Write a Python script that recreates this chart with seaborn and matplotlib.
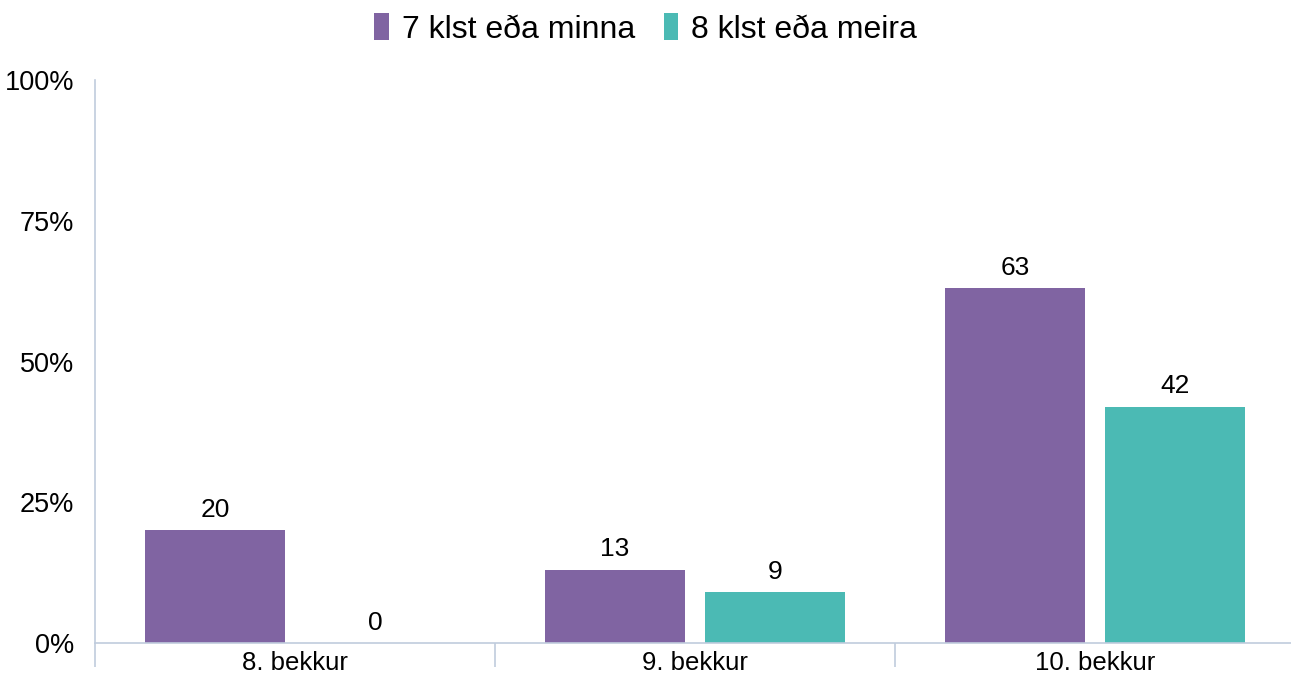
import matplotlib
matplotlib.use("Agg")
import matplotlib.pyplot as plt
import seaborn as sns
import pandas as pd
from matplotlib.ticker import FixedLocator

categories = ["8. bekkur", "9. bekkur", "10. bekkur"]
series_names = ["7 klst eða minna", "8 klst eða meira"]
values_7 = [20, 13, 63]
values_8 = [0, 9, 42]
y_ticks = [0, 25, 50, 75, 100]
y_tick_labels = ["0%", "25%", "50%", "75%", "100%"]
colors = ["#8064A2", "#4BBAB4"]

df = pd.DataFrame({
    "cat": categories * 2,
    "series": [series_names[0]] * 3 + [series_names[1]] * 3,
    "val": values_7 + values_8,
})

sns.set_theme(style="white")
plt.rcParams["font.family"] = ["Liberation Sans", "DejaVu Sans"]

fig = plt.figure(figsize=(12.91, 6.74), dpi=100)
ax = fig.add_axes([95 / 1291, 31 / 674, 1200 / 1291, 563 / 674])

sns.barplot(data=df, x="cat", y="val", hue="series", palette=colors,
            width=0.8, gap=0.12, ax=ax, saturation=1, legend=True, linewidth=0)

for cont in ax.containers:
    ax.bar_label(cont, labels=[f"{v:.0f}" for v in cont.datavalues],
                 padding=6, fontsize=19, color="black")

ax.set_xlim(-0.5, 2.5)
ax.set_ylim(0, 100)
ax.set_yticks(y_ticks)
ax.set_yticklabels(y_tick_labels, fontsize=19.5, color="black")
ax.tick_params(axis="y", length=0, pad=15)
ax.tick_params(axis="x", which="major", length=0, pad=6, labelsize=18.5, labelcolor="black")
ax.xaxis.set_minor_locator(FixedLocator([-0.5, 0.5, 1.5, 2.5]))
ax.tick_params(axis="x", which="minor", bottom=True, length=17, width=1.2,
               color="#C0CCDD", direction="out")
ax.set_xlabel("")
ax.set_ylabel("")

spine_color = "#C0CCDD"
for s in ["top", "right"]:
    ax.spines[s].set_visible(False)
ax.spines["left"].set_color(spine_color)
ax.spines["bottom"].set_color(spine_color)
ax.spines["left"].set_linewidth(1.2)
ax.spines["bottom"].set_linewidth(1.2)
ax.grid(False)

ax.legend_.remove()
handles, labels = ax.get_legend_handles_labels()
fig.legend(handles, labels, loc="center", bbox_to_anchor=(0.5, 1 - 29 / 674),
           ncol=2, frameon=False, fontsize=23, handlelength=0.45, handleheight=0.9,
           handletextpad=0.4, columnspacing=0.9, labelcolor="black")

fig.savefig("out.png", dpi=100)
